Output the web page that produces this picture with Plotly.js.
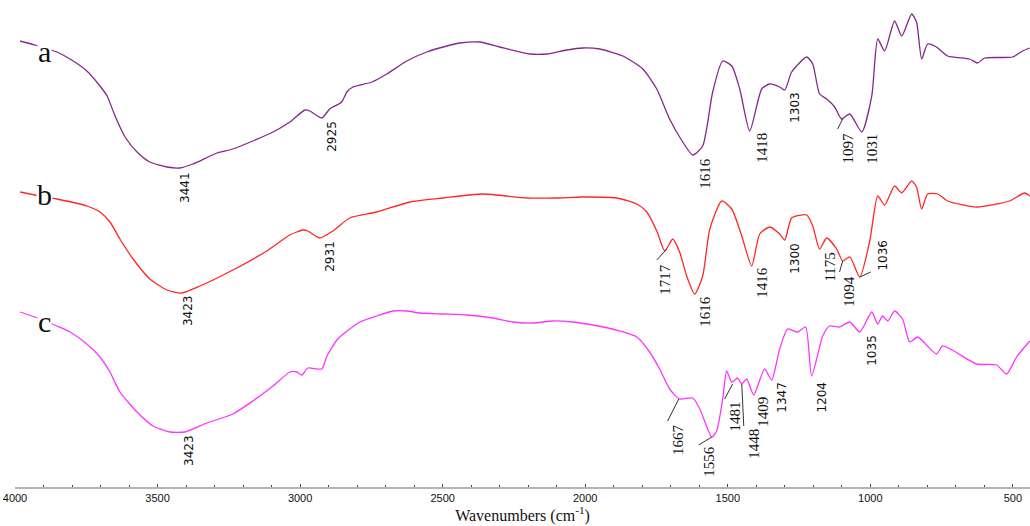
<!DOCTYPE html>
<html>
<head>
<meta charset="utf-8">
<script src="https://cdn.plot.ly/plotly-3.0.1.min.js"></script>
<style>html,body{margin:0;padding:0;background:#fff;}#chart{width:1030px;height:526px;}</style>
</head>
<body>
<div id="chart"></div>
<script>
// Wavenumbers (cm-1) and transmittance (arbitrary units, offset curves)
const wnA = [3982,3930,3853,3807,3748,3702,3677,3649,3614,3572,3527,3467,3422,3376,3292,3236,3166,3095,3036,2983,2966,2924,2896,2854,2836,2815,2748,2696,2626,2556,2485,2440,2370,2300,2194,2135,2065,2009,1949,1868,1798,1749,1704,1658,1623,1588,1553,1518,1486,1458,1423,1381,1353,1318,1300,1276,1223,1202,1178,1153,1125,1101,1072,1030,995,974,950,915,890,855,838,820,799,768,729,652,624,599,501,466,441];
const tA  = [446,442,435,428,416,401,391,371,350,335,325,320,319,323,334,338,346,355,365,377,376,369,378,385,395,400,405,413,426,435,441,444,445,440,433,433,437,439,438,431,418,398,368,345,332,341,395,426,421,398,356,398,403,400,397,415,430,423,393,388,380,368,373,355,391,448,436,466,451,473,465,428,443,440,431,428,424,429,430,436,439];

const wnB = [3982,3930,3853,3748,3702,3667,3632,3586,3527,3467,3415,3351,3236,3117,3036,2990,2973,2931,2885,2826,2731,2615,2499,2359,2205,2100,2009,1889,1819,1784,1749,1721,1693,1669,1644,1616,1588,1563,1521,1486,1451,1416,1388,1353,1318,1300,1276,1223,1202,1178,1153,1118,1097,1072,1037,1002,974,950,915,890,855,838,820,799,764,729,627,512,459,441];
const tB  = [295,292,288,281,275,265,248,228,208,197,194,201,217,236,252,257,256,249,256,269,275,285,289,293,289,289,290,289,283,275,256,236,248,235,211,193,211,258,286,278,251,221,253,260,253,247,269,272,261,238,249,238,226,230,210,246,291,282,301,294,306,300,278,293,293,286,280,286,294,291];

const wnC = [3982,3930,3853,3807,3748,3702,3667,3632,3572,3516,3457,3404,3327,3236,3166,3095,3036,3011,2994,2973,2924,2906,2868,2826,2790,2731,2675,2626,2580,2499,2415,2324,2254,2184,2114,2044,1974,1879,1819,1774,1739,1704,1669,1623,1598,1556,1539,1518,1504,1486,1465,1451,1434,1409,1371,1346,1318,1290,1255,1227,1206,1167,1143,1108,1072,1037,995,974,957,939,915,887,862,834,768,746,627,557,522,487,441];
const tC  = [175,170,161,155,143,130,115,95,75,61,55,55,64,73,86,101,115,115,112,119,118,131,148,158,165,171,176,176,174,173,172,169,165,164,166,165,162,156,150,135,118,98,88,89,78,50,56,88,116,105,109,103,108,92,118,107,138,158,155,160,111,151,161,160,165,155,175,163,171,166,176,168,145,150,133,141,123,122,113,130,146];

const curveNames = ['a','b','c'];
const curveColors = ['#86268c','#ff2626','#ff33ff'];

const tickVals = [4000,3500,3000,2500,2000,1500,1000,500];
const tickText = ['4000','3500','3000','2500','2000','1500','1000','500'];

// Peak labels: [text, wavenumber position, value position, serif?]
const peakLabels = [
  ['3441',3404,300,false],['2925',2889,351,false],['1616',1581,314,true],['1418',1381,339,true],
  ['1303',1265,380,false],['1097',1080,339,true],['1031',995,338,true],
  ['3423',3393,176,false],['2931',2896,231,false],['1717',1721,208,true],['1616',1581,176,true],
  ['1416',1381,205,true],['1300',1265,229,false],['1175',1143,220,true],['1094',1076,196,true],['1036',957,232,false],
  ['3423',3390,37,false],['1667',1675,48,true],['1556',1567,26,true],['1481',1476,70,true],
  ['1448',1409,43,true],['1409',1377,75,true],['1347',1311,90,false],['1204',1171,90,false],['1035',995,137,false]
];
// Leader lines: [wn0, t0, wn1, t1]
const leaders = [
  [1115,358,1097,368],[1749,227,1714,238],[1108,215,1097,226],[1037,210,999,215],
  [1711,66,1672,88],[1602,42,1556,50],[1511,88,1483,103],[1451,103,1444,61]
];
const curveLabelPos = [[3895,436],[3895,293],[3895,166]];

const series = [[wnA,tA],[wnB,tB],[wnC,tC]];
const traces = series.map((s,i)=>({
  x:s[0], y:s[1], type:'scatter', mode:'lines', name:curveNames[i],
  line:{color:curveColors[i], width:1.3, shape:'spline', smoothing:0.6},
  hoverinfo:'skip'
}));

const annotations = peakLabels.map(p=>({
  x:p[1], y:p[2], xref:'x', yref:'y', text:p[0], showarrow:false, textangle:-90,
  font:{family: p[3] ? 'Liberation Serif, serif' : 'DejaVu Sans, sans-serif', size: p[3] ? 15 : 12, color:'#111'}
}));
curveNames.forEach((n,i)=>{
  annotations.push({x:curveLabelPos[i][0], y:curveLabelPos[i][1], xref:'x', yref:'y', text:n, showarrow:false,
    bgcolor:'#ffffff', borderpad:0,
    font:{family:'Liberation Serif, serif', size:30, color:'#111'}});
});

const shapes = leaders.map(l=>({type:'line', xref:'x', yref:'y', x0:l[0], y0:l[1], x1:l[2], y1:l[3],
  line:{color:'#333', width:1}}));

const layout = {
  width:1030, height:526,
  margin:{l:15, r:0, t:0, b:39},
  paper_bgcolor:'#fff', plot_bgcolor:'#fff',
  showlegend:false,
  xaxis:{
    range:[4000,440], showgrid:false, zeroline:false,
    showline:true, linecolor:'#b4b4b4', linewidth:2,
    tickmode:'array', tickvals:tickVals, ticktext:tickText,
    ticks:'inside', ticklen:3, tickcolor:'#444', tickwidth:1,
    minor:{dtick:100, ticks:'inside', ticklen:2, tickcolor:'#444', showgrid:false},
    tickfont:{family:'Liberation Sans, sans-serif', size:11, color:'#111'},
    title:{text:'Wavenumbers (cm<sup>-1</sup>)', font:{family:'Liberation Serif, serif', size:16, color:'#111'}, standoff:4},
    automargin:false
  },
  yaxis:{range:[0,487], visible:false, showgrid:false, zeroline:false, fixedrange:true},
  annotations:annotations,
  shapes:shapes
};

Plotly.newPlot('chart', traces, layout, {displayModeBar:false, staticPlot:true});
</script>
</body>
</html>
